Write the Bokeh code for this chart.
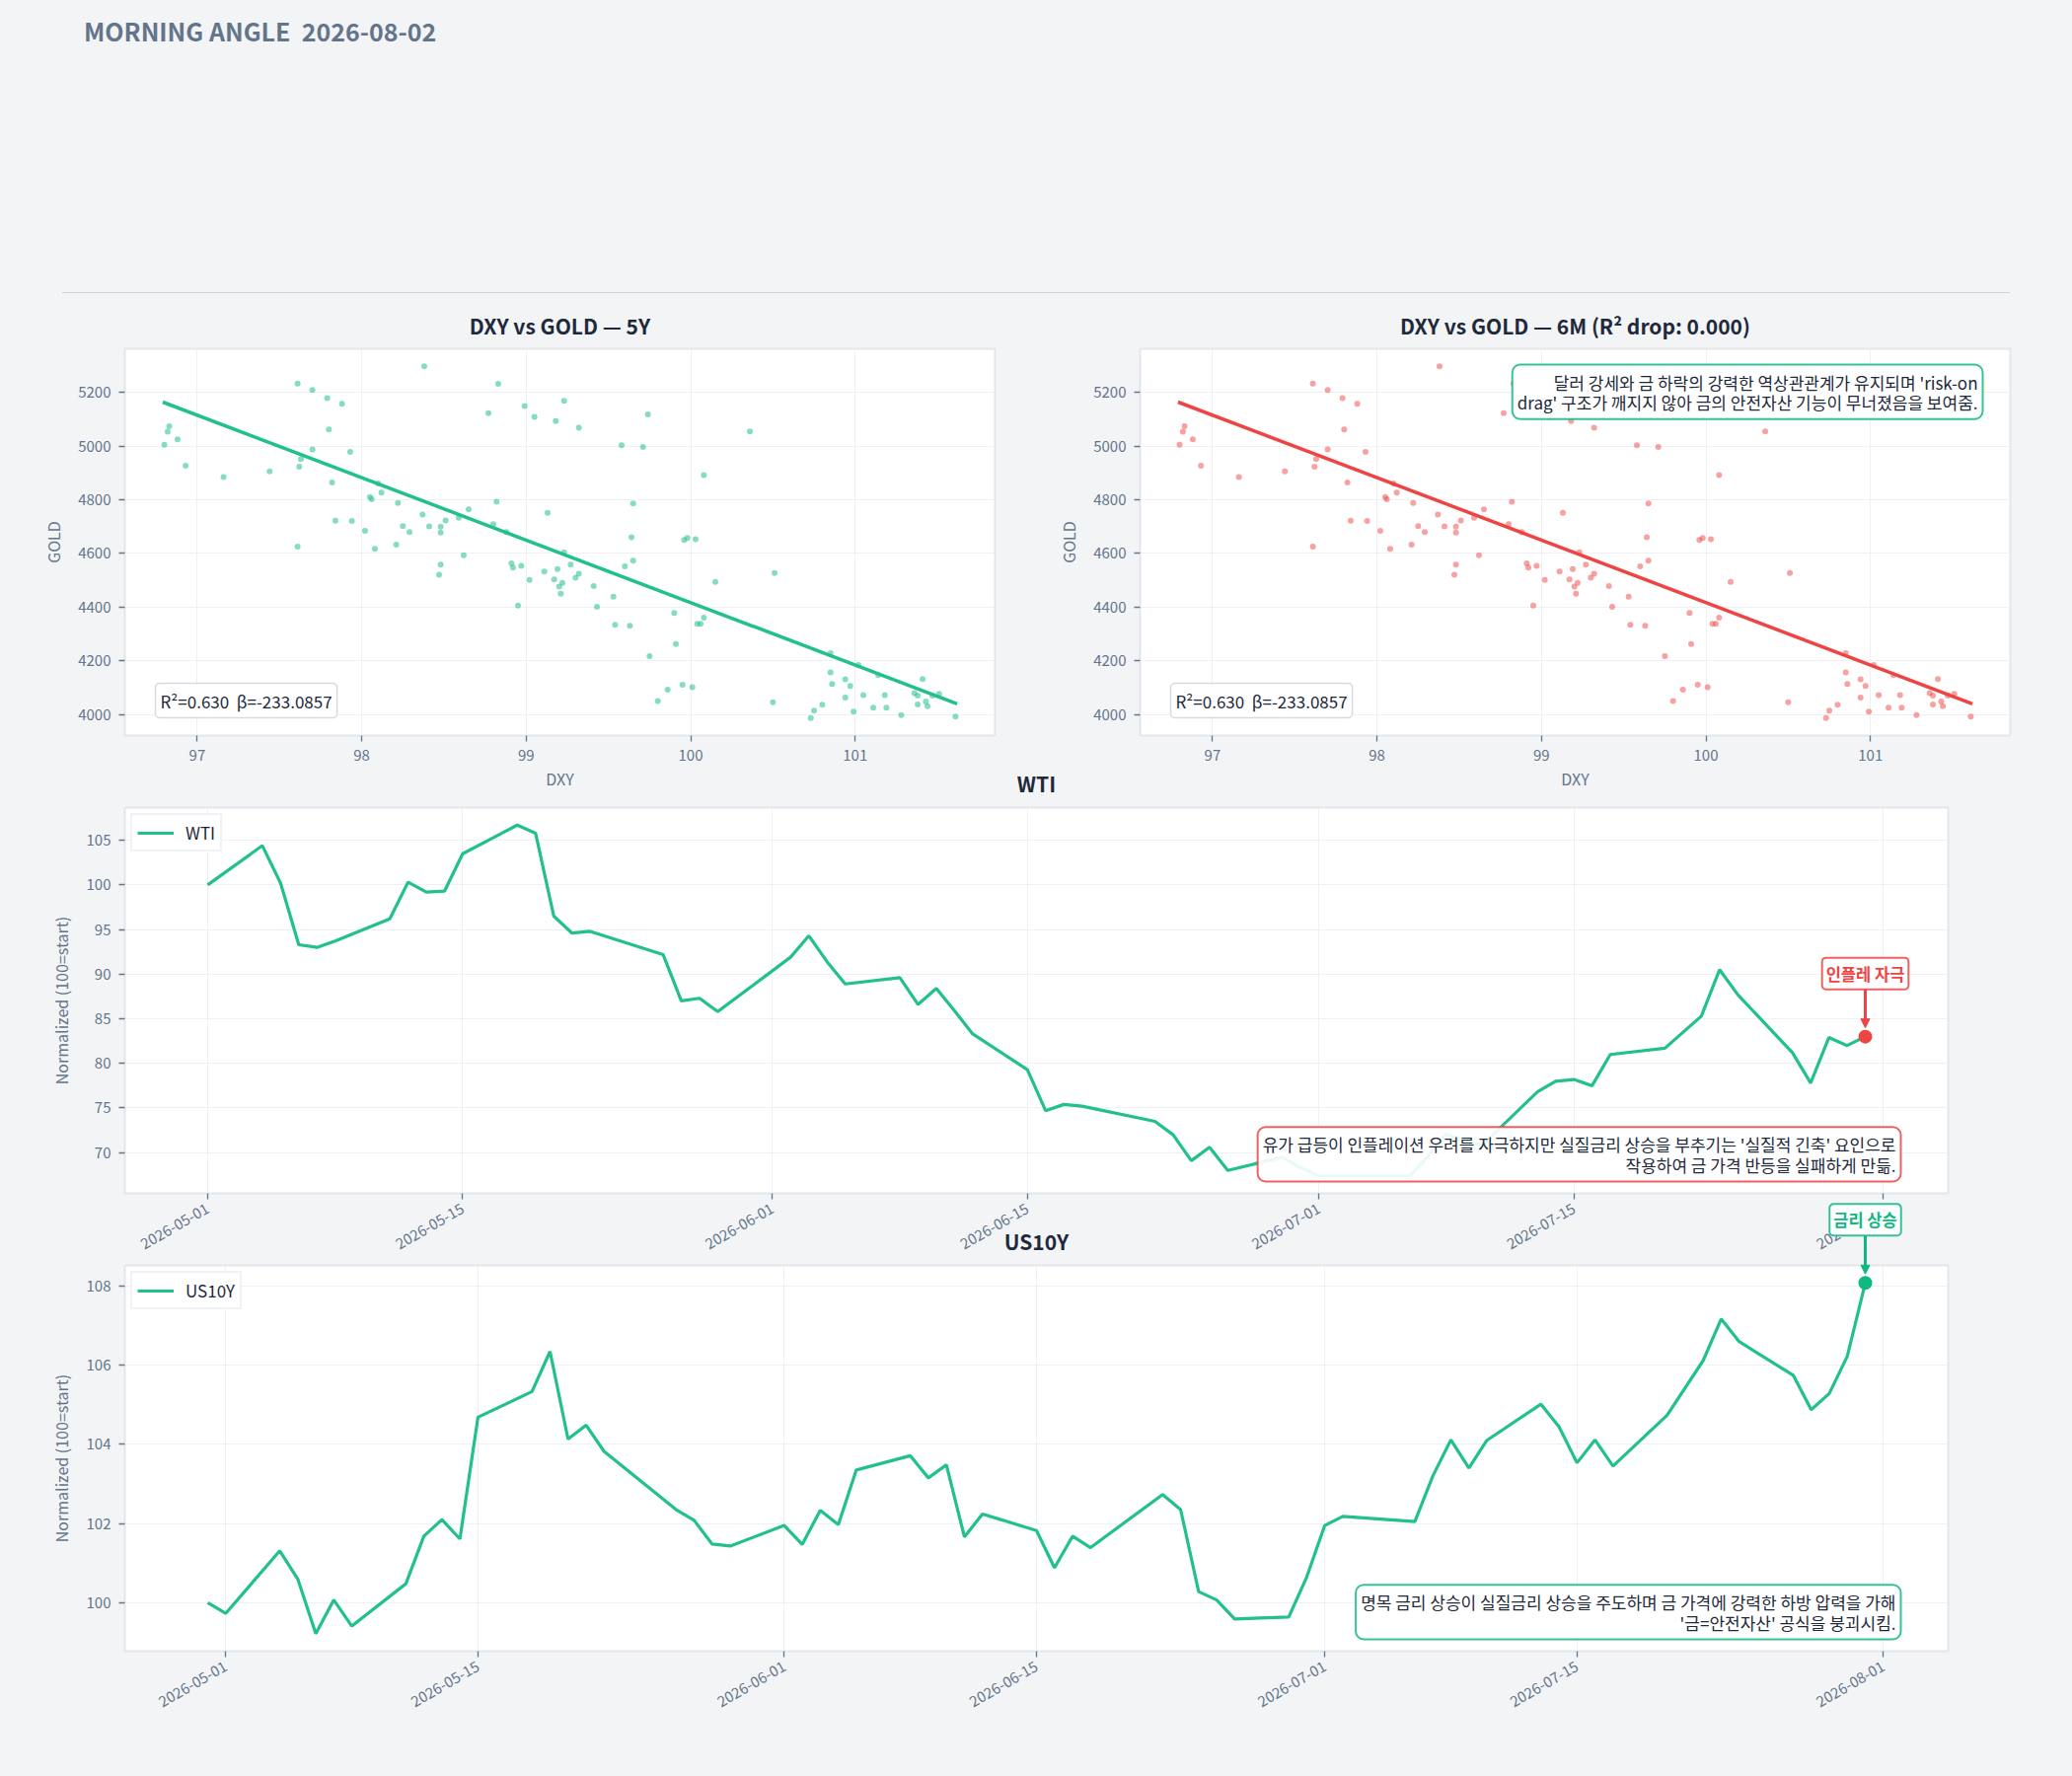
import math
import pandas as pd
from bokeh.plotting import figure
from bokeh.models import (Range1d, Label, Arrow, NormalHead, FixedTicker, Div,
                          SingleIntervalTicker, DatetimeTickFormatter,
                          GlobalInlineStyleSheet)
from bokeh.layouts import column, row
from bokeh.embed import file_html
from bokeh.resources import INLINE

# ---------------- data ----------------
page_title = "MORNING ANGLE  2026-08-02"

dxy = [96.80, 96.82, 96.83, 96.88, 96.93, 97.16, 97.44, 97.61, 97.70, 97.79,
       97.88, 97.80, 97.70, 97.63, 97.62, 97.93, 97.82, 97.84, 97.94, 97.61,
       98.02, 98.05, 98.06, 98.10, 98.12, 98.08, 98.22, 98.21, 98.25, 98.29,
       98.37, 98.38, 98.41, 98.48, 98.48, 98.51, 98.48, 98.47, 98.59, 98.65,
       98.62, 98.77, 98.83, 98.82, 98.80, 98.88, 98.91, 98.92, 98.97, 98.95,
       98.99, 99.05, 99.02, 99.11, 99.13, 99.18, 99.23, 99.17, 99.19, 99.20,
       99.22, 99.21, 99.23, 99.27, 99.30, 99.32, 99.32, 99.41, 99.43, 99.53,
       99.54, 99.58, 99.60, 99.63, 99.64, 99.65, 99.65, 99.71, 99.74, 99.75,
       99.80, 99.86, 99.90, 99.91, 99.95, 99.96, 99.98, 100.01, 100.03, 100.04,
       100.06, 100.08, 100.08, 100.15, 100.36, 100.50, 100.51, 100.73, 100.75, 100.80,
       100.85, 100.85, 100.86, 100.94, 100.94, 100.97, 100.99, 101.02, 101.05, 101.11,
       101.14, 101.18, 101.19, 101.28, 101.36, 101.38, 101.41, 101.38, 101.43, 101.44,
       101.47, 101.51, 101.61]
gold = [5005, 5054, 5074, 5025, 4927, 4885, 4906, 5233, 5209, 5179,
        5158, 5062, 4988, 4952, 4923, 4978, 4864, 4722, 4721, 4625,
        4684, 4810, 4802, 4861, 4827, 4617, 4788, 4633, 4702, 4680,
        4745, 5297, 4701, 4700, 4678, 4723, 4558, 4521, 4733, 4764,
        4593, 5123, 5232, 4793, 4709, 4680, 4563, 4547, 4554, 4406,
        5149, 5109, 4501, 4533, 4751, 5093, 5169, 4503, 4542, 4477,
        4490, 4450, 4604, 4558, 4510, 4524, 5068, 4478, 4401, 4439,
        4334, 5003, 4552, 4330, 4660, 4573, 4786, 4997, 5118, 4217,
        4050, 4092, 4378, 4262, 4111, 4650, 4658, 4102, 4653, 4338,
        4338, 4361, 4892, 4494, 5055, 4046, 4527, 3987, 4014, 4036,
        4228, 4157, 4114, 4131, 4063, 4106, 4011, 4184, 4072, 4025,
        4147, 4072, 4025, 3998, 4080, 4070, 4132, 4037, 4048, 4031,
        4070, 4077, 3992]
fit_dxy = [96.79, 101.62]
fit_gold = [5164, 4040]
r2_text = "R²=0.630\u00a0 β=-233.0857"
title_5y = "DXY vs GOLD — 5Y"
title_6m = "DXY vs GOLD — 6M (R² drop: 0.000)"

wti_dates = ["2026-05-01", "2026-05-04", "2026-05-05", "2026-05-06", "2026-05-07", "2026-05-08",
             "2026-05-11", "2026-05-12", "2026-05-13", "2026-05-14", "2026-05-15",
             "2026-05-18", "2026-05-19", "2026-05-20", "2026-05-21", "2026-05-22",
             "2026-05-26", "2026-05-27", "2026-05-28", "2026-05-29",
             "2026-06-02", "2026-06-03", "2026-06-04", "2026-06-05",
             "2026-06-08", "2026-06-09", "2026-06-10", "2026-06-11", "2026-06-12",
             "2026-06-15", "2026-06-16", "2026-06-17", "2026-06-18",
             "2026-06-22", "2026-06-23", "2026-06-24", "2026-06-25", "2026-06-26",
             "2026-06-29", "2026-06-30", "2026-07-01", "2026-07-02", "2026-07-03",
             "2026-07-06", "2026-07-07", "2026-07-08", "2026-07-09", "2026-07-10",
             "2026-07-13", "2026-07-14", "2026-07-15", "2026-07-16", "2026-07-17",
             "2026-07-20", "2026-07-22", "2026-07-23", "2026-07-24",
             "2026-07-27", "2026-07-28", "2026-07-29", "2026-07-30", "2026-07-31"]
wti_values = [100.0, 104.4, 100.2, 93.3, 93.0, 93.7,
              96.2, 100.3, 99.2, 99.3, 103.5,
              106.7, 105.8, 96.5, 94.6, 94.8,
              92.2, 87.0, 87.3, 85.8,
              91.9, 94.3, 91.4, 88.9,
              89.6, 86.6, 88.4, 85.9, 83.3,
              79.3, 74.7, 75.4, 75.2,
              73.5, 72.0, 69.1, 70.6, 68.0,
              69.5, 68.3, 67.4, 67.4, 67.4,
              67.4, 69.6, 72.1, 71.2, 70.9,
              76.8, 78.0, 78.2, 77.5, 81.0,
              81.7, 85.3, 90.5, 87.7,
              81.2, 77.8, 82.9, 82.0, 83.0]

us10y_dates = ["2026-04-30", "2026-05-01", "2026-05-04", "2026-05-05", "2026-05-06", "2026-05-07", "2026-05-08",
               "2026-05-11", "2026-05-12", "2026-05-13", "2026-05-14", "2026-05-15",
               "2026-05-18", "2026-05-19", "2026-05-20", "2026-05-21", "2026-05-22",
               "2026-05-26", "2026-05-27", "2026-05-28", "2026-05-29",
               "2026-06-01", "2026-06-02", "2026-06-03", "2026-06-04", "2026-06-05",
               "2026-06-08", "2026-06-09", "2026-06-10", "2026-06-11", "2026-06-12",
               "2026-06-15", "2026-06-16", "2026-06-17", "2026-06-18",
               "2026-06-22", "2026-06-23", "2026-06-24", "2026-06-25", "2026-06-26",
               "2026-06-29", "2026-06-30", "2026-07-01", "2026-07-02",
               "2026-07-06", "2026-07-07", "2026-07-08", "2026-07-09", "2026-07-10",
               "2026-07-13", "2026-07-14", "2026-07-15", "2026-07-16", "2026-07-17",
               "2026-07-20", "2026-07-22", "2026-07-23", "2026-07-24",
               "2026-07-27", "2026-07-28", "2026-07-29", "2026-07-30", "2026-07-31"]
us10y_values = [100.00, 99.73, 101.31, 100.60, 99.22, 100.07, 99.41,
                100.48, 101.68, 102.10, 101.61, 104.68,
                105.33, 106.34, 104.13, 104.48, 103.82,
                102.35, 102.08, 101.48, 101.43,
                101.95, 101.47, 102.33, 101.97, 103.35,
                103.71, 103.15, 103.48, 101.66, 102.24,
                101.82, 100.88, 101.68, 101.39,
                102.73, 102.35, 100.28, 100.07, 99.59,
                99.64, 100.65, 101.95, 102.18,
                102.05, 103.20, 104.11, 103.40, 104.10,
                105.01, 104.44, 103.53, 104.11, 103.45,
                104.73, 106.11, 107.16, 106.59,
                105.74, 104.87, 105.28, 106.22, 108.07]

date_ticks = ["2026-05-01", "2026-05-15", "2026-06-01", "2026-06-15",
              "2026-07-01", "2026-07-15", "2026-08-01"]

note_6m = ("달러 강세와 금 하락의 강력한 역상관관계가 유지되며 'risk-on\n"
           "drag' 구조가 깨지지 않아 금의 안전자산 기능이 무너졌음을 보여줌.")
note_wti = ("유가 급등이 인플레이션 우려를 자극하지만 실질금리 상승을 부추기는 '실질적 긴축' 요인으로\n"
            "작용하여 금 가격 반등을 실패하게 만듦.")
note_us = ("명목 금리 상승이 실질금리 상승을 주도하며 금 가격에 강력한 하방 압력을 가해\n"
           "'금=안전자산' 공식을 붕괴시킴.")
tag_wti = "인플레 자극"
tag_us = "금리 상승"

# ---------------- style / layout constants ----------------
FONT = "Noto Sans CJK KR"
BG = "#f3f4f6"
GREEN = "#22c08a"
GREEN_DK = "#10b981"
RED = "#ef4444"
INK = "#1e293b"
MUTED = "#64748b"

PAGE_W = 2092
HDR_H = 303
TS_FRAME_W, TS_FRAME_H = 1848, 391
TS_LEFT, TS_RIGHT = 126, PAGE_W - 126 - 1848


def padded(vals, frac=0.05):
    lo, hi = min(vals), max(vals)
    d = (hi - lo) * frac
    return Range1d(lo - d, hi + d)


def to_ms(dates):
    return [pd.Timestamp(d).value // 10**6 for d in dates]


def style(p, tick_size="15px", title_standoff=15):
    p.outline_line_color = "#e3e6eb"
    p.outline_line_width = 2
    p.grid.grid_line_color = "#eef0f3"
    p.grid.grid_line_width = 1
    for ax in p.axis:
        ax.axis_line_color = None
        ax.major_tick_line_color = MUTED
        ax.major_tick_line_width = 1.3
        ax.major_tick_out = 6
        ax.major_tick_in = 0
        ax.minor_tick_line_color = None
        ax.major_label_text_font = FONT
        ax.major_label_text_font_size = tick_size
        ax.major_label_text_color = MUTED
        ax.major_label_standoff = 8
        ax.axis_label_text_font = FONT
        ax.axis_label_text_font_size = "16px"
        ax.axis_label_text_color = MUTED
        ax.axis_label_text_font_style = "normal"
        ax.axis_label_standoff = 10
    p.title.text_font = FONT
    p.title.text_font_size = "21px"
    p.title.text_font_style = "bold"
    p.title.text_color = INK
    p.title.align = "center"
    p.title.standoff = title_standoff


def note_label(x, y, xo, yo, text, color, align, baseline):
    return Label(x=x, y=y, x_offset=xo, y_offset=yo, text=text, text_font=FONT,
                 text_font_size="17px", text_color=INK, text_line_height=0.81,
                 text_align=align, text_baseline=baseline,
                 background_fill_color="white", background_fill_alpha=0.9,
                 border_line_color=color, border_line_width=2, border_line_alpha=0.85,
                 border_radius=8, padding=5)


# ---------------- header ----------------
hdr = Div(width=PAGE_W, height=HDR_H, margin=(0, 0, 0, 0), text=(
    f'<div style="position:relative;width:{PAGE_W}px;height:{HDR_H}px;">'
    f'<div style="position:absolute;left:85px;top:16px;font-family:\'{FONT}\';'
    f'font-weight:bold;font-size:25px;line-height:30px;color:{MUTED};white-space:pre;">'
    f'{page_title}</div>'
    f'<div style="position:absolute;left:63px;top:296px;width:1974px;height:0;'
    f'border-top:1.5px solid #cfd4db;"></div></div>'))


# ---------------- scatter panels ----------------
def scatter_panel(title, pt_color, pt_alpha, fit_color, left, right):
    p = figure(frame_width=882, frame_height=392, min_border_left=left, min_border_right=right,
               min_border_top=50, min_border_bottom=70,
               x_range=padded(dxy), y_range=padded(gold), title=title,
               toolbar_location=None, output_backend="svg",
               background_fill_color="white", border_fill_color=BG)
    p.scatter(dxy, gold, size=6, fill_color=pt_color, fill_alpha=pt_alpha, line_color=None)
    p.line(fit_dxy, fit_gold, line_color=fit_color, line_width=3.5)
    p.xaxis.ticker = SingleIntervalTicker(interval=1, num_minor_ticks=0)
    p.yaxis.ticker = SingleIntervalTicker(interval=200, num_minor_ticks=0)
    p.xaxis.axis_label = "DXY"
    p.yaxis.axis_label = "GOLD"
    style(p, tick_size="15px", title_standoff=18)
    p.xaxis.axis_label_standoff = 3
    p.add_layout(Label(x=p.x_range.start, y=p.y_range.start, x_offset=31, y_offset=18,
                       text=r2_text, text_font=FONT, text_font_size="17px", text_color=INK,
                       text_align="left", text_baseline="bottom",
                       background_fill_color="white", background_fill_alpha=0.9,
                       border_line_color="#d5dae1", border_line_width=1.5,
                       border_radius=4, padding=5))
    return p


s1 = scatter_panel(title_5y, GREEN, 0.55, GREEN, 126, 40)
s2 = scatter_panel(title_6m, RED, 0.5, RED, 107, PAGE_W - 1048 - 107 - 882)
s2.add_layout(note_label(s2.x_range.end, s2.y_range.end, -28, -16, note_6m, GREEN_DK,
                         "right", "top"))


# ---------------- time series panels ----------------
def add_tag(p, x_last, v_last, ppu, tag, color):
    p.add_layout(Arrow(end=NormalHead(size=9, fill_color=color, line_color=color),
                       x_start=x_last, y_start=v_last + 49 / ppu,
                       x_end=x_last, y_end=v_last + 9 / ppu,
                       line_color=color, line_width=3))
    p.scatter([x_last], [v_last], size=14, fill_color=color, line_color=None)
    p.add_layout(Label(x=x_last, y=v_last, y_offset=64, text=tag, text_font=FONT,
                       text_font_size="16.5px", text_font_style="bold", text_color=color,
                       text_align="center", text_baseline="middle",
                       background_fill_color="white", border_line_color=color,
                       border_line_width=2, border_line_alpha=0.85, border_radius=4,
                       padding=4))


def ts_panel(title, dates, vals, top, bottom, margin_top, note, note_color, yinterval,
             title_standoff):
    xms = to_ms(dates)
    xr = padded(xms)
    yr = padded(vals)
    p = figure(x_axis_type="datetime", frame_width=TS_FRAME_W, frame_height=TS_FRAME_H,
               min_border_left=TS_LEFT, min_border_right=TS_RIGHT,
               min_border_top=top, min_border_bottom=bottom,
               x_range=xr, y_range=yr, title=title,
               toolbar_location=None, output_backend="svg",
               background_fill_color="white", border_fill_alpha=0,
               margin=(margin_top, 0, 0, 0))
    p.line(xms, vals, line_color=GREEN, line_width=3.2, legend_label=title)
    p.xaxis.ticker = FixedTicker(ticks=to_ms(date_ticks))
    p.xaxis.formatter = DatetimeTickFormatter(days="%Y-%m-%d", months="%Y-%m-%d",
                                              years="%Y-%m-%d")
    p.xaxis.major_label_orientation = math.pi / 6
    p.yaxis.ticker = SingleIntervalTicker(interval=yinterval, num_minor_ticks=0)
    p.yaxis.axis_label = "Normalized (100=start)"
    style(p, tick_size="15px", title_standoff=title_standoff)
    p.yaxis.axis_label_standoff = 11

    lg = p.legend[0]
    lg.location = "top_left"
    lg.margin = 6
    lg.padding = 5
    lg.label_text_font = FONT
    lg.label_text_font_size = "17px"
    lg.label_text_color = INK
    lg.glyph_width = 37
    lg.glyph_height = 16
    lg.label_height = 16
    lg.label_standoff = 12
    lg.border_line_color = "#e2e5ea"
    lg.border_line_width = 2
    lg.background_fill_color = "white"

    p.add_layout(note_label(xr.end, yr.start, -48, 12, note, note_color, "right", "bottom"))
    return p, xms, xr, yr


wti, wti_x, wti_xr, wti_yr = ts_panel("WTI", wti_dates, wti_values, 56, 80, -53,
                                      note_wti, RED, 5, 19)
wti_ppu = TS_FRAME_H / (wti_yr.end - wti_yr.start)
add_tag(wti, wti_x[-1], wti_values[-1], wti_ppu, tag_wti, RED)

us, us_x, us_xr, us_yr = ts_panel("US10Y", us10y_dates, us10y_values, 56, 119, -63,
                                  note_us, GREEN_DK, 2, 20)
us_ppu = TS_FRAME_H / (us_yr.end - us_yr.start)

# transparent overlay so the US10Y tag can sit above that panel's frame
OV_ABOVE, OV_BELOW = 67, 28
ov = figure(x_axis_type=None, y_axis_type=None,
            frame_width=TS_FRAME_W, frame_height=OV_ABOVE + OV_BELOW,
            min_border_left=TS_LEFT, min_border_right=TS_RIGHT,
            min_border_top=0, min_border_bottom=0,
            x_range=us_xr,
            y_range=Range1d(us_yr.end - OV_BELOW / us_ppu, us_yr.end + OV_ABOVE / us_ppu),
            toolbar_location=None, output_backend="svg",
            background_fill_alpha=0, border_fill_alpha=0, outline_line_color=None,
            margin=(1215 - 1792, 0, 1792 - 1310, 0))
add_tag(ov, us_x[-1], us10y_values[-1], us_ppu, tag_us, GREEN_DK)

layout = column(hdr, row(s1, s2, spacing=0), wti, us, ov, spacing=0,
                styles={"background-color": BG},
                stylesheets=[GlobalInlineStyleSheet(css="body { background: #f3f4f6; }")])

open("out.html", "w").write(file_html(layout, INLINE, title="Morning Angle"))
